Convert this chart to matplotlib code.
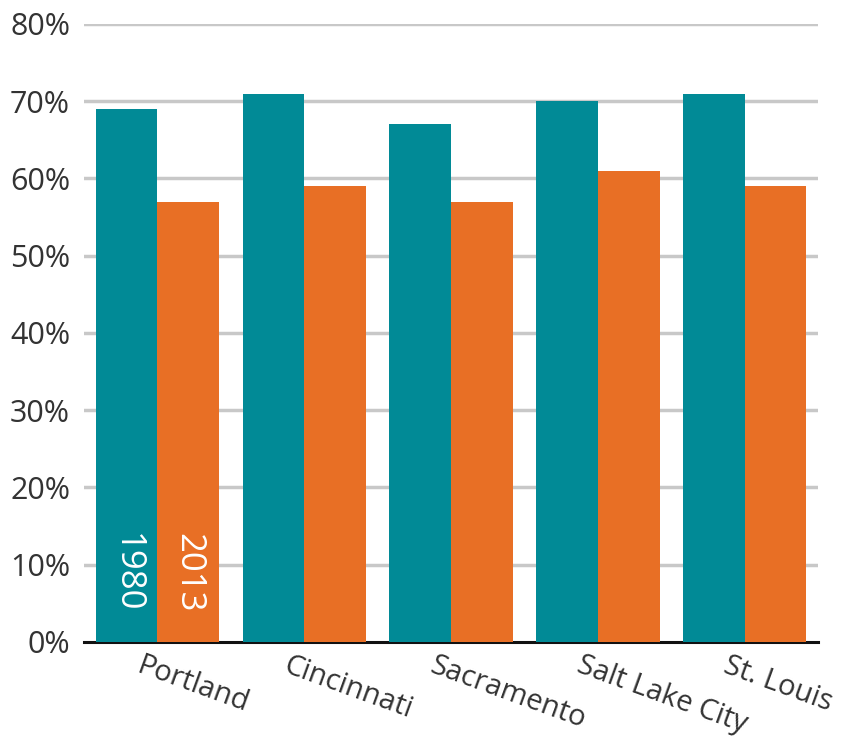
import matplotlib
matplotlib.use('Agg')
import matplotlib.pyplot as plt
import numpy as np

plt.rcParams.update({
    'font.family': ['Open Sans', 'DejaVu Sans'],
    'font.size': 22,
})

TEAL = '#018a96'
ORANGE = '#e86f25'
GRID = '#c8c8c8'
TEXT = '#333333'

cities = ['Portland', 'Cincinnati', 'Sacramento', 'Salt Lake City', 'St. Louis']
share_1980 = [69, 71, 67, 70, 71]
share_2013 = [57, 59, 57, 61, 59]
yticks = [0, 10, 20, 30, 40, 50, 60, 70, 80]

fig = plt.figure(figsize=(8.46, 7.45), dpi=100)
ax = fig.add_axes([0.0993, 0.1383, 0.8677, 0.8295])

x = np.arange(len(cities))
w = 0.42
ax.bar(x - w / 2, share_1980, width=w, color=TEAL, zorder=3)
ax.bar(x + w / 2, share_2013, width=w, color=ORANGE, zorder=3)

# gridlines
for t in yticks[1:]:
    ax.axhline(t, color=GRID, linewidth=2.5, zorder=1)

ax.set_xlim(-0.5, 4.5)
ax.set_ylim(0, 80)
ax.set_yticks(yticks)
ax.set_yticklabels([f'{t}%' for t in yticks], color=TEXT, fontsize=22)
ax.tick_params(axis='y', length=0, pad=10)
ax.set_xticks([])

for s in ['top', 'right', 'left']:
    ax.spines[s].set_visible(False)
ax.spines['bottom'].set_linewidth(2.2)
ax.spines['bottom'].set_color('#111111')
ax.spines['bottom'].set_zorder(2)

# series labels inside the first pair of bars
ax.text(x[0] - w / 2, 3.8, '1980', rotation=270, color='white', fontsize=25,
        ha='center', va='bottom', zorder=5)
ax.text(x[0] + w / 2, 3.8, '2013', rotation=270, color='white', fontsize=25,
        ha='center', va='bottom', zorder=5)

# tilted category labels
for i, c in enumerate(cities):
    ax.text(i - 0.1, -1.2, c, rotation=-20, rotation_mode='anchor',
            ha='left', va='top', color=TEXT, fontsize=21, clip_on=False)

fig.savefig('out.png', dpi=100)
